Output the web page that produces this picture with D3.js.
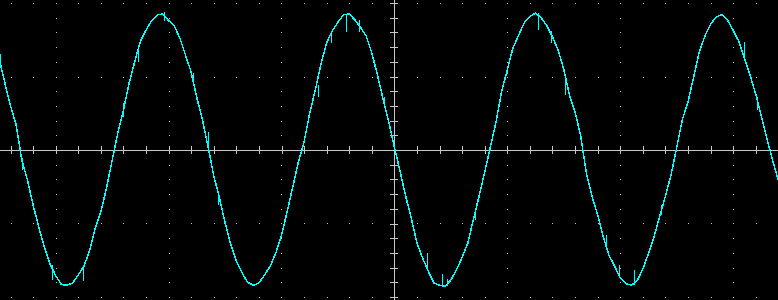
<!DOCTYPE html>
<html>
<head>
<meta charset="utf-8">
<script src="https://cdn.jsdelivr.net/npm/d3@7"></script>
<style>
  html, body { margin: 0; padding: 0; background: #000; }
  svg { display: block; }
</style>
</head>
<body>
<div id="holder"></div>
<script>
// scope record: 1 ms/div, 1 V/div, 20 samples per division
var startTime = -3.5;   // ms
var sampleStep = 0.05;  // ms

// trace voltages (V)
var volts = [
  1.24, 0.91, 0.60, 0.34, -0.14, -0.41, -0.75, -1.05, -1.32, -1.55,
  -1.71, -1.83, -1.84, -1.81, -1.70, -1.58, -1.37, -1.07, -0.84, -0.52,
  -0.14, 0.23, 0.54, 0.91, 1.20, 1.48, 1.63, 1.76, 1.84, 1.85,
  1.76, 1.69, 1.52, 1.29, 1.06, 0.71, 0.41, 0.04, -0.35, -0.65,
  -0.99, -1.28, -1.51, -1.67, -1.80, -1.84, -1.81, -1.70, -1.58, -1.40,
  -1.16, -0.84, -0.50, -0.16, 0.11, 0.50, 0.82, 1.17, 1.46, 1.62,
  1.74, 1.84, 1.85, 1.77, 1.67, 1.55, 1.32, 1.02, 0.69, 0.38,
  0.04, -0.29, -0.63, -0.93, -1.27, -1.47, -1.65, -1.81, -1.84, -1.85,
  -1.77, -1.63, -1.46, -1.27, -0.94, -0.63, -0.30, 0.04, 0.38, 0.80,
  1.09, 1.39, 1.56, 1.73, 1.82, 1.86, 1.80, 1.69, 1.54, 1.36,
  1.10, 0.75, 0.52, 0.19, -0.31, -0.63, -0.88, -1.18, -1.43, -1.58,
  -1.74, -1.82, -1.84, -1.78, -1.62, -1.41, -1.18, -0.90, -0.63, -0.34,
  0.03, 0.41, 0.65, 0.99, 1.33, 1.55, 1.71, 1.81, 1.84, 1.77,
  1.63, 1.48, 1.25, 1.02, 0.76, 0.46, 0.15, -0.14, -0.41
];

// noise glitches: time (ms) and the voltage span of each spike
var glitchTimes = [-3.49, -3.30, -3.03, -2.76, -2.40, -2.27, -2.04, -1.78, -1.65, -1.56,
  -0.68, -0.56, -0.43, -0.31, -0.09, 0.29, 0.42, 0.47, 0.71, 1.00,
  1.27, 1.39, 1.51, 1.87, 1.99, 2.12, 2.36, 3.10, 3.21];
var glitchHigh = [1.31, -0.11, -1.56, -1.61, 0.64, 1.39, 1.88, 1.05, 0.24, -0.57,
  0.88, 1.59, 1.84, 1.77, 0.72, -1.40, -1.69, -1.76, -0.83, 1.14,
  1.86, 1.62, 0.98, -1.16, -1.56, -1.63, -0.75, 1.47, 0.72];
var glitchLow = [1.12, -0.27, -1.77, -1.78, 0.45, 1.20, 1.76, 0.91, 0.00, -0.75,
  0.72, 1.46, 1.61, 1.61, 0.59, -1.63, -1.86, -1.85, -0.95, 1.03,
  1.63, 1.46, 0.75, -1.29, -1.74, -1.84, -0.88, 1.22, 0.54];

// graticule
var majorTimes = [-3, -2, -1, 1, 2, 3];
var majorVolts = [-2, -1, 1, 2];

function drawScope() {
  var fullWidth = 778;
  var fullHeight = 300;
  var divX = 112.9;  // px per ms
  var divY = 73.5;   // px per volt
  var cx = 394.4;
  var cy = 150;

  var timeScale = d3.scaleLinear()
    .domain([-3.5, 3.5])
    .range([cx - 3.5 * divX, cx + 3.5 * divX]);

  var voltScale = d3.scaleLinear()
    .domain([-2.05, 2.05])
    .range([cy + 2.05 * divY, cy - 2.05 * divY]);

  var minorTimes = d3.range(-17, 18).map(function(i) { return i * 0.2; });
  var minorVolts = d3.range(-10, 11).map(function(i) { return i * 0.2; });

  var svg = d3.select('#holder').append('svg')
    .attr('width', fullWidth)
    .attr('height', fullHeight)
    .style('background', '#000');

  var grid = svg.append('g').classed('grid', true).attr('fill', '#c4c4c4');

  // dotted rows
  majorVolts.forEach(function(v) {
    grid.selectAll(null)
        .data(minorTimes)
      .enter().append('rect')
        .attr('x', function(t) { return Math.round(timeScale(t)); })
        .attr('y', Math.round(voltScale(v)))
        .attr('width', 1)
        .attr('height', 1);
  });

  // dotted columns
  majorTimes.forEach(function(t) {
    grid.selectAll(null)
        .data(minorVolts)
      .enter().append('rect')
        .attr('x', Math.round(timeScale(t)))
        .attr('y', function(v) { return Math.round(voltScale(v)); })
        .attr('width', 1)
        .attr('height', 1);
  });

  // centre cross with minor ticks
  var axes = svg.append('g').classed('axes', true);
  var tickLen = 4;

  axes.append('g')
    .attr('transform', 'translate(0,' + cy + ')')
    .call(d3.axisBottom(timeScale).tickValues(minorTimes).tickSize(tickLen).tickSizeOuter(0).tickFormat(''));
  axes.append('g')
    .attr('transform', 'translate(0,' + cy + ')')
    .call(d3.axisTop(timeScale).tickValues(minorTimes).tickSize(tickLen).tickSizeOuter(0).tickFormat(''));
  axes.append('g')
    .attr('transform', 'translate(' + Math.round(cx) + ',0)')
    .call(d3.axisLeft(voltScale).tickValues(minorVolts).tickSize(tickLen).tickSizeOuter(0).tickFormat(''));
  axes.append('g')
    .attr('transform', 'translate(' + Math.round(cx) + ',0)')
    .call(d3.axisRight(voltScale).tickValues(minorVolts).tickSize(tickLen).tickSizeOuter(0).tickFormat(''));

  axes.selectAll('path, line')
    .attr('stroke', '#c8c8c8')
    .attr('stroke-width', 1)
    .attr('shape-rendering', 'crispEdges');

  // trace
  var samples = volts.map(function(v, i) {
    return { t: startTime + i * sampleStep, v: v };
  });

  var line = d3.line()
    .x(function(d) { return timeScale(d.t); })
    .y(function(d) { return voltScale(d.v); });

  var trace = svg.append('g').classed('trace', true);

  trace.append('path')
    .datum(samples)
    .attr('d', line)
    .attr('fill', 'none')
    .attr('stroke', '#00ffff')
    .attr('stroke-width', 1.5)
    .attr('shape-rendering', 'crispEdges');

  trace.selectAll('line.glitch')
      .data(glitchTimes)
    .enter().append('line')
      .classed('glitch', true)
      .attr('x1', function(t) { return Math.round(timeScale(t)) + 0.5; })
      .attr('x2', function(t) { return Math.round(timeScale(t)) + 0.5; })
      .attr('y1', function(t, i) { return voltScale(glitchHigh[i]); })
      .attr('y2', function(t, i) { return voltScale(glitchLow[i]); })
      .attr('stroke', '#00ffff')
      .attr('stroke-width', 1)
      .attr('shape-rendering', 'crispEdges');
}

drawScope();
</script>
</body>
</html>
